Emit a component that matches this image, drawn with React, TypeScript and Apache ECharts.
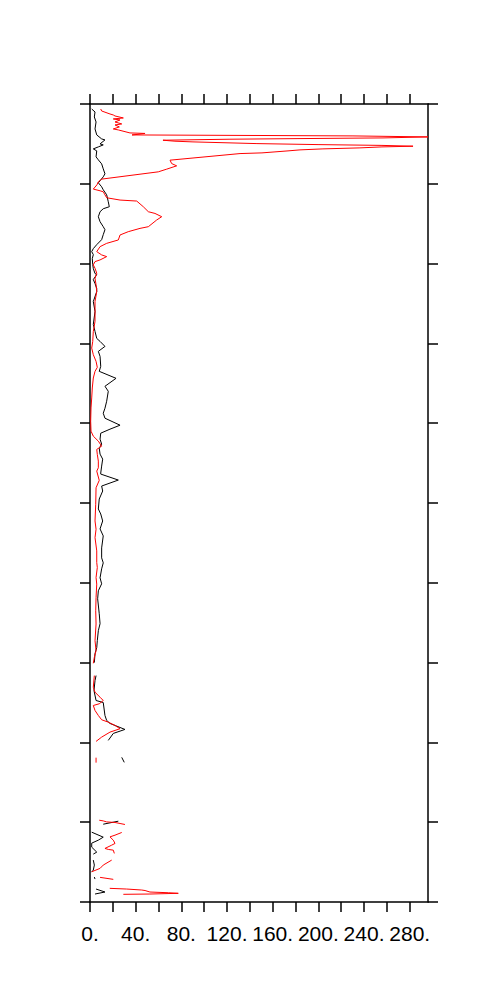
import React, { useEffect, useRef } from "react";
import * as echarts from "echarts";

// x-axis tick values and labelled values
const xTickValues = [0, 20, 40, 60, 80, 100, 120, 140, 160, 180, 200, 220, 240, 260, 280];
const xLabelValues = [0, 40, 80, 120, 160, 200, 240, 280];

// [value, level]; null marks a gap in the profile
const blackProfile: ([number, number] | null)[] = [
  [1.5, 795], [4.4, 792], [3.8, 787], [5.3, 782], [4.4, 775], [5.9, 769], [10.2, 765], [13.1, 764],
  [8.8, 760], [11.6, 759], [7.3, 757], [2.9, 755], [5.9, 753], [5.3, 747], [7.3, 744], [10.2, 740],
  [11.6, 735], [13.1, 730], [11.6, 727], [8.8, 723], [7.3, 721], [10.2, 717], [11.6, 714], [14.6, 709],
  [16.0, 702], [16.9, 697], [11.6, 695], [8.8, 692], [7.3, 687], [8.8, 682], [11.6, 677], [13.1, 674],
  [11.6, 669], [10.2, 664], [5.9, 659], [2.9, 655], [1.5, 652], [2.9, 649], [2.0, 645], [2.4, 639],
  [2.9, 635], [4.4, 630], [5.9, 629], [2.9, 624], [4.4, 620], [5.9, 615], [5.9, 612], [2.9, 602],
  [4.4, 592], [2.9, 579], [4.4, 572], [5.9, 565], [8.8, 562], [13.1, 557], [7.3, 552], [8.8, 547],
  [9.4, 537], [8.1, 532], [22.8, 525], [13.1, 517], [16.0, 512], [14.6, 502], [13.1, 495], [11.6, 490],
  [13.1, 485], [26.3, 478], [17.5, 474], [9.4, 470], [8.8, 464], [10.2, 459], [8.1, 455], [8.8, 449],
  [11.1, 444], [10.2, 437], [9.4, 430], [9.4, 429], [24.8, 423], [10.2, 417], [11.1, 412], [8.1, 404],
  [7.3, 394], [9.4, 389], [11.1, 382], [8.8, 374], [11.6, 367], [10.2, 355], [10.2, 345], [11.6, 340],
  [10.2, 334], [8.8, 325], [10.2, 319], [7.3, 312], [6.7, 304], [8.1, 289], [8.8, 279], [7.3, 272],
  [6.4, 262], [5.9, 255], [4.4, 249], [3.8, 240],
  null,
  [5.3, 227], [4.4, 222], [3.5, 212], [5.3, 202], [11.6, 200], [13.1, 187], [14.6, 182], [17.5, 179],
  [30.6, 173], [20.4, 169], [16.0, 162],
  null,
  [27.8, 145], [30.0, 140],
  null,
  [24.8, 81], [11.6, 78],
  null,
  [1.5, 70], [11.6, 65], [7.3, 62], [1.5, 59], [1.5, 55], [5.9, 50], [2.9, 48],
  null,
  [2.9, 42], [3.8, 37], [2.9, 32], [1.5, 30],
  null,
  [3.8, 25], [4.4, 23],
  null,
  [5.3, 13], [13.1, 10], [4.4, 8],
];

const redProfile: ([number, number] | null)[] = [
  [9.4, 795], [10.2, 793], [17.5, 790], [20.4, 789], [21.9, 788], [29.2, 786], [20.4, 785], [26.3, 784],
  [21.9, 782], [27.8, 780], [21.9, 779], [25.7, 777], [20.4, 775], [24.8, 774], [35.0, 771], [48.2, 770.5],
  [41.2, 769.5], [36.8, 769], [230.3, 768], [296, 767], [256.6, 766], [181.3, 765.3], [122.6, 764.7],
  [63.9, 763.7], [74.4, 762.7], [90.2, 762], [146.2, 760.3], [199.7, 759.3], [255.7, 758.5], [282.9, 757.7],
  [255.7, 757], [236.4, 756], [204, 755], [183.9, 754], [173.4, 753], [162, 752], [150.6, 751],
  [131.4, 750.3], [70.1, 743.7], [71.5, 740.3], [75.9, 738], [67.2, 734.7], [59.8, 732], [10.2, 724.7],
  [7.3, 722], [6.1, 719], [2.9, 714.7], [8.8, 713], [11.6, 712], [14.6, 706], [26.3, 703.7], [40.9, 702.7],
  [46.7, 697], [51.1, 692], [56.9, 690.3], [62.8, 687], [58.4, 683.7], [51.1, 677], [43.8, 675.3],
  [33.5, 672], [26.3, 668.7], [24.8, 663.7], [14.6, 660.3], [8.8, 657], [5.9, 652], [10.2, 648.7],
  [14.6, 647], [8.8, 643.7], [4.4, 642], [2.9, 638.7], [4.4, 635.3], [5.9, 630.3], [4.4, 625.3],
  [5.3, 618.7], [5.9, 612], [4.4, 602], [4.4, 582], [2.9, 572], [2.4, 562], [1.5, 555.3], [2.9, 548.7],
  [5.3, 542], [6.4, 536], [4.4, 532], [2.9, 525.3], [2.0, 515.3], [1.5, 505.3], [0.9, 495.3], [0.6, 482],
  [0.9, 472], [2.9, 467], [7.3, 462], [10.2, 457], [5.9, 453.7], [6.4, 448.7], [7.3, 442], [7.3, 435.3],
  [5.9, 432], [8.1, 422.7], [5.3, 415.3], [5.0, 398.7], [4.4, 382], [5.3, 373.7], [4.4, 365.3],
  [5.9, 352], [5.9, 340.3], [6.4, 335.3], [5.3, 325.3], [5.9, 318.7], [5.3, 305.3], [5.0, 292],
  [5.3, 278.7], [4.4, 262], [5.3, 252], [3.8, 245.3], [2.9, 239.3],
  null,
  [3.8, 227], [2.9, 215.3], [4.4, 210.3], [8.8, 205.3], [11.6, 202], [8.1, 198.7], [2.9, 197], [4.4, 192],
  [7.3, 187], [10.2, 182.7], [16.0, 180.3], [21.9, 177], [26.3, 173.7], [17.5, 170.3], [10.2, 165.3],
  [5.3, 161],
  null,
  [5.3, 144.7], [5.3, 139.7],
  null,
  [8.1, 82], [11.6, 81.3], [14.6, 80.3], [21.9, 79.7], [26.3, 78.7], [30.6, 77.7],
  null,
  [27.8, 69.7], [21.9, 67], [17.5, 65.3], [20.4, 62], [21.9, 58.7], [19.0, 57], [13.1, 53.7], [16.0, 52.7],
  [20.4, 52], [21.3, 48.7],
  null,
  [19.0, 42], [11.6, 37], [8.8, 33.7], [1.5, 30.3],
  null,
  [8.8, 24.7], [20.4, 22.7],
  null,
  [17.3, 13.7], [32.1, 13], [45.3, 12], [48.2, 11.5], [52.5, 10], [68.6, 9.3], [77.3, 8.7], [52.5, 8],
  [29.2, 7.7],
];

const toData = (arr: ([number, number] | null)[]) =>
  arr.map((p) => (p === null ? ["-", "-"] : p));

export default function App() {
  const ref = useRef<HTMLDivElement>(null);
  useEffect(() => {
    if (!ref.current) return;
    const chart = echarts.init(ref.current, undefined, { renderer: "svg" });
    const lineStyle = { color: "#000", width: 1.5 };
    const baseX = {
      type: "value",
      min: 0,
      max: 296,
      interval: 20,
      axisLine: { show: true, onZero: false, lineStyle },
      axisTick: { show: true, length: 10, customValues: xTickValues, lineStyle },
      splitLine: { show: false },
    };
    const baseY = {
      type: "value",
      min: 0,
      max: 800,
      interval: 80,
      axisLine: { show: true, onZero: false, lineStyle },
      axisTick: { show: true, length: 10, lineStyle },
      axisLabel: { show: false },
      splitLine: { show: false },
    };
    chart.setOption({
      animation: false,
      backgroundColor: "#fff",
      grid: { left: 90, right: 76, top: 104, bottom: 106, containLabel: false },
      xAxis: [
        {
          ...baseX,
          position: "bottom",
          axisLabel: {
            show: true,
            customValues: xLabelValues,
            formatter: (v: number) => `${v}.`,
            fontSize: 21,
            fontFamily: "Liberation Sans",
            color: "#000",
            margin: 21,
          },
        },
        { ...baseX, position: "top", axisLabel: { show: false } },
      ],
      yAxis: [
        { ...baseY, position: "left" },
        { ...baseY, position: "right" },
      ],
      series: [
        {
          type: "line",
          xAxisIndex: 0,
          yAxisIndex: 0,
          data: toData(blackProfile),
          showSymbol: false,
          symbol: "none",
          connectNulls: false,
          lineStyle: { color: "#000", width: 1 },
        },
        {
          type: "line",
          xAxisIndex: 0,
          yAxisIndex: 0,
          data: toData(redProfile),
          showSymbol: false,
          symbol: "none",
          connectNulls: false,
          lineStyle: { color: "#ff0000", width: 1 },
        },
      ],
    });
    return () => chart.dispose();
  }, []);
  return (
    <div
      ref={ref}
      style={{ position: "fixed", left: 0, top: 0, width: 504, height: 1008, background: "#fff" }}
    />
  );
}
